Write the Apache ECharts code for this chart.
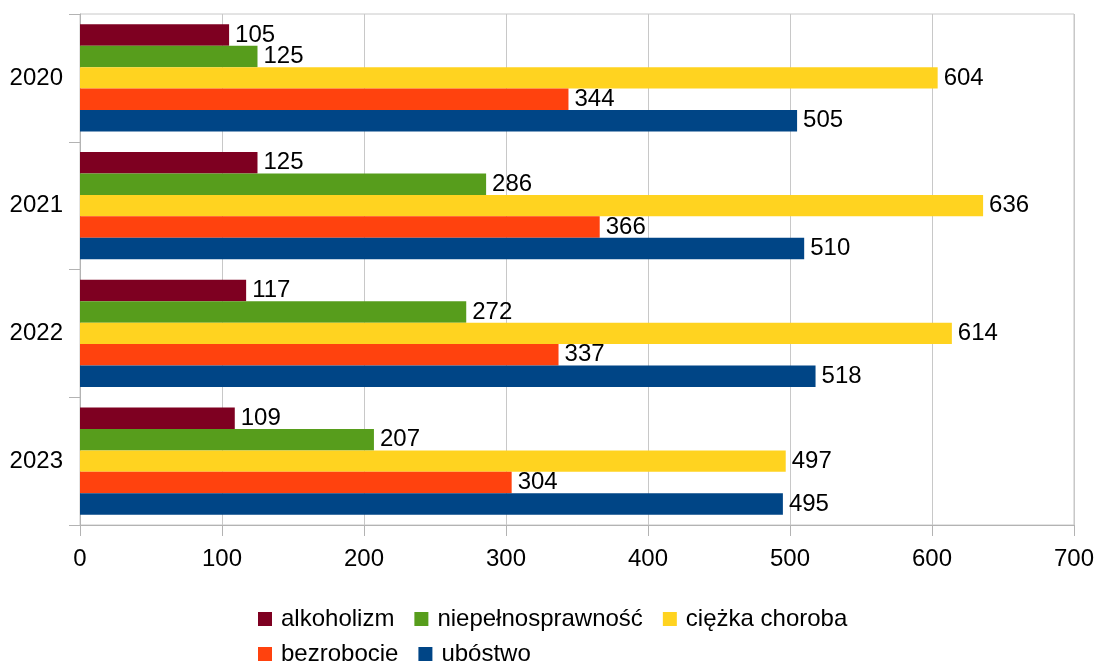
<!DOCTYPE html>
<html>
<head>
<meta charset="utf-8">
<script src="https://cdn.jsdelivr.net/npm/echarts@6/dist/echarts.min.js"></script>
<style>
  html, body { margin: 0; padding: 0; background: #fff; }
  #main { width: 1097px; height: 664px; }
</style>
</head>
<body>
<div id="main"></div>
<script>
// years on the category axis, top to bottom
var years = ['2020', '2021', '2022', '2023'];
var xTicks = [0, 100, 200, 300, 400, 500, 600, 700];

var seriesNames = ['alkoholizm', 'niepełnosprawność', 'ciężka choroba', 'bezrobocie', 'ubóstwo'];
var alkoholizm = [105, 125, 117, 109];
var niepelnosprawnosc = [125, 286, 272, 207];
var ciezkaChoroba = [604, 636, 614, 497];
var bezrobocie = [344, 366, 337, 304];
var ubostwo = [505, 510, 518, 495];
var colors = ['#7e0021', '#579d1c', '#ffd320', '#ff420e', '#004586'];

var values = [alkoholizm, niepelnosprawnosc, ciezkaChoroba, bezrobocie, ubostwo];
var font = 'Liberation Sans, Arial, sans-serif';

var chart = echarts.init(document.getElementById('main'));

var series = seriesNames.map(function(name, i) {
    return {
        name: name,
        type: 'bar',
        data: values[i],
        barGap: '0%',
        barCategoryGap: '16%',
        itemStyle: { color: colors[i] },
        label: {
            show: true,
            position: 'right',
            distance: 6,
            color: '#000',
            fontFamily: font,
            fontSize: 24
        }
    };
});

// legend is split in two rows like the original
function legendRow(names, top) {
    return {
        data: names,
        left: 258,
        top: top,
        padding: 0,
        itemWidth: 14,
        itemHeight: 14,
        itemGap: 20,
        icon: 'rect',
        textStyle: {
            fontFamily: font,
            fontSize: 24,
            color: '#000',
            padding: [0, 0, 0, 4]
        }
    };
}

chart.setOption({
    animation: false,
    backgroundColor: '#fff',
    grid: {
        left: 80,
        right: 22,
        top: 14,
        bottom: 139,
        show: true,
        borderColor: '#c8c8c8',
        borderWidth: 1
    },
    legend: [
        legendRow(seriesNames.slice(0, 3), 607),
        legendRow(seriesNames.slice(3), 642)
    ],
    xAxis: {
        type: 'value',
        min: xTicks[0],
        max: xTicks[xTicks.length - 1],
        interval: 100,
        axisLine: { show: true, lineStyle: { color: '#b3b3b3' } },
        axisTick: { show: true, length: 11, lineStyle: { color: '#b3b3b3' } },
        splitLine: { show: true, lineStyle: { color: '#c8c8c8' } },
        axisLabel: {
            color: '#000',
            fontFamily: font,
            fontSize: 24,
            margin: 22
        }
    },
    yAxis: {
        type: 'category',
        data: years,
        inverse: true,
        axisLine: { show: true, lineStyle: { color: '#b3b3b3' } },
        axisTick: { show: true, length: 11, lineStyle: { color: '#b3b3b3' } },
        axisLabel: {
            color: '#000',
            fontFamily: font,
            fontSize: 24,
            margin: 17
        }
    },
    series: series
});
</script>
</body>
</html>
